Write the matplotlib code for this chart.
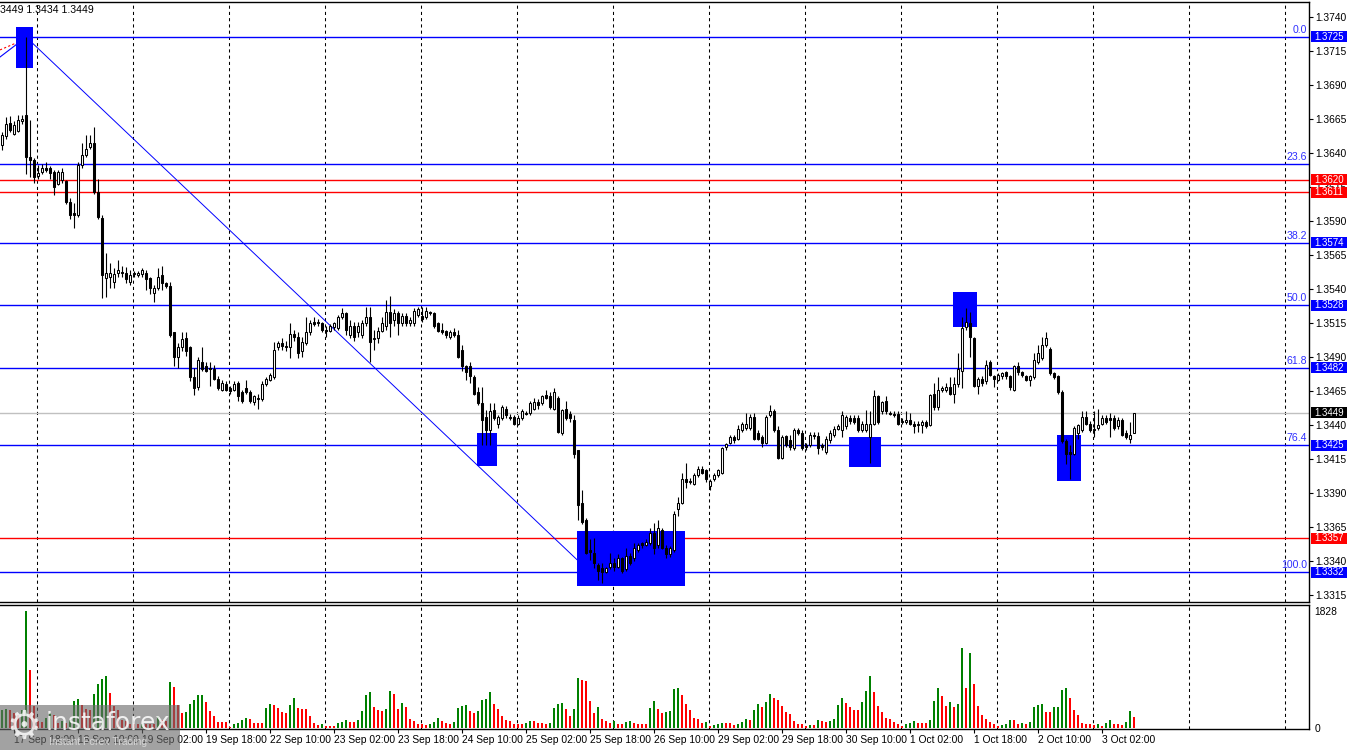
import numpy as np
import matplotlib
matplotlib.use("Agg")
import matplotlib.pyplot as plt
from matplotlib.patches import Rectangle

plt.rcParams['font.family'] = ['Liberation Sans', 'DejaVu Sans']

# hourly candles, 17 Sep - 3 Oct
opens = [
    1.3646, 1.3652, 1.3662, 1.3654, 1.3656, 1.3663, 1.3668, 1.3637, 1.3635, 1.3623,
    1.3626, 1.3629, 1.3629, 1.3626, 1.3617, 1.3620, 1.3619, 1.3604, 1.3596, 1.3594,
    1.3631, 1.3638, 1.3644, 1.3647, 1.3611, 1.3592, 1.3548, 1.3549, 1.3545, 1.3552,
    1.3552, 1.3552, 1.3545, 1.3552, 1.3550, 1.3551, 1.3552, 1.3548, 1.3537, 1.3541,
    1.3550, 1.3544, 1.3542, 1.3508, 1.3490, 1.3497, 1.3504, 1.3497, 1.3475, 1.3468,
    1.3486, 1.3483, 1.3482, 1.3481, 1.3474, 1.3466, 1.3470, 1.3467, 1.3466, 1.3471,
    1.3464, 1.3467, 1.3464, 1.3457, 1.3460, 1.3459, 1.3470, 1.3473, 1.3475, 1.3497,
    1.3500, 1.3498, 1.3497, 1.3507, 1.3505, 1.3494, 1.3500, 1.3508, 1.3516, 1.3516,
    1.3515, 1.3510, 1.3509, 1.3512, 1.3511, 1.3519, 1.3522, 1.3506, 1.3513, 1.3508,
    1.3506, 1.3515, 1.3519, 1.3503, 1.3504, 1.3509, 1.3513, 1.3523, 1.3517, 1.3522,
    1.3515, 1.3520, 1.3515, 1.3515, 1.3521, 1.3520, 1.3519, 1.3523, 1.3522, 1.3515,
    1.3510, 1.3509, 1.3505, 1.3508, 1.3506, 1.3495, 1.3483, 1.3483, 1.3475, 1.3464,
    1.3456, 1.3446, 1.3436, 1.3451, 1.3441, 1.3445, 1.3452, 1.3446, 1.3446, 1.3441,
    1.3445, 1.3449, 1.3449, 1.3452, 1.3457, 1.3456, 1.3462, 1.3461, 1.3452, 1.3460,
    1.3434, 1.3452, 1.3448, 1.3444, 1.3422, 1.3383, 1.3370, 1.3348, 1.3346, 1.3337,
    1.3335, 1.3332, 1.3336, 1.3339, 1.3336, 1.3342, 1.3334, 1.3344, 1.3342, 1.3348,
    1.3353, 1.3352, 1.3353, 1.3361, 1.3352, 1.3363, 1.3350, 1.3345, 1.3348, 1.3378,
    1.3383, 1.3400, 1.3398, 1.3397, 1.3403, 1.3408, 1.3407, 1.3395, 1.3400, 1.3403,
    1.3405, 1.3424, 1.3427, 1.3431, 1.3430, 1.3436, 1.3438, 1.3438, 1.3446, 1.3434,
    1.3431, 1.3427, 1.3447, 1.3450, 1.3436, 1.3416, 1.3432, 1.3429, 1.3423, 1.3436,
    1.3434, 1.3425, 1.3425, 1.3433, 1.3432, 1.3425, 1.3420, 1.3429, 1.3433, 1.3437,
    1.3436, 1.3439, 1.3445, 1.3445, 1.3445, 1.3436, 1.3436, 1.3431, 1.3441, 1.3461,
    1.3450, 1.3458, 1.3449, 1.3448, 1.3448, 1.3443, 1.3442, 1.3444, 1.3441, 1.3441,
    1.3440, 1.3442, 1.3440, 1.3463, 1.3453, 1.3466, 1.3466, 1.3468, 1.3463, 1.3470,
    1.3480, 1.3512, 1.3515, 1.3504, 1.3469, 1.3474, 1.3472, 1.3486, 1.3476, 1.3473,
    1.3476, 1.3479, 1.3476, 1.3466, 1.3483, 1.3479, 1.3476, 1.3473, 1.3475, 1.3486,
    1.3489, 1.3499, 1.3496, 1.3478, 1.3476, 1.3464, 1.3428, 1.3420, 1.3419, 1.3434,
    1.3436, 1.3446, 1.3441, 1.3437, 1.3438, 1.3441, 1.3445, 1.3445, 1.3445, 1.3439,
    1.3444, 1.3434, 1.3430, 1.3434,
]
highs = [
    1.3655, 1.3666, 1.3667, 1.3663, 1.3668, 1.3668, 1.3725, 1.3664, 1.3636, 1.3631,
    1.3632, 1.3633, 1.3630, 1.3627, 1.3627, 1.3629, 1.3620, 1.3607, 1.3603, 1.3633,
    1.3647, 1.3653, 1.3653, 1.3659, 1.3621, 1.3594, 1.3566, 1.3559, 1.3555, 1.3561,
    1.3557, 1.3556, 1.3554, 1.3553, 1.3553, 1.3555, 1.3554, 1.3549, 1.3543, 1.3555,
    1.3557, 1.3545, 1.3545, 1.3508, 1.3500, 1.3508, 1.3508, 1.3498, 1.3482, 1.3490,
    1.3497, 1.3486, 1.3486, 1.3484, 1.3476, 1.3473, 1.3472, 1.3469, 1.3472, 1.3472,
    1.3466, 1.3473, 1.3466, 1.3462, 1.3463, 1.3472, 1.3475, 1.3478, 1.3501, 1.3502,
    1.3504, 1.3502, 1.3515, 1.3510, 1.3508, 1.3505, 1.3519, 1.3517, 1.3519, 1.3518,
    1.3516, 1.3513, 1.3514, 1.3516, 1.3521, 1.3526, 1.3523, 1.3517, 1.3516, 1.3516,
    1.3517, 1.3527, 1.3527, 1.3510, 1.3512, 1.3519, 1.3532, 1.3535, 1.3525, 1.3524,
    1.3522, 1.3522, 1.3519, 1.3526, 1.3527, 1.3527, 1.3527, 1.3524, 1.3523, 1.3516,
    1.3515, 1.3510, 1.3510, 1.3511, 1.3510, 1.3499, 1.3484, 1.3486, 1.3477, 1.3468,
    1.3468, 1.3451, 1.3456, 1.3456, 1.3447, 1.3455, 1.3454, 1.3448, 1.3447, 1.3447,
    1.3452, 1.3450, 1.3458, 1.3460, 1.3459, 1.3462, 1.3466, 1.3464, 1.3467, 1.3461,
    1.3452, 1.3458, 1.3450, 1.3447, 1.3422, 1.3392, 1.3372, 1.3356, 1.3357, 1.3339,
    1.3339, 1.3336, 1.3346, 1.3342, 1.3345, 1.3343, 1.3350, 1.3346, 1.3353, 1.3353,
    1.3354, 1.3356, 1.3364, 1.3368, 1.3370, 1.3364, 1.3352, 1.3351, 1.3377, 1.3387,
    1.3405, 1.3412, 1.3401, 1.3405, 1.3410, 1.3410, 1.3408, 1.3400, 1.3405, 1.3408,
    1.3424, 1.3427, 1.3433, 1.3433, 1.3440, 1.3442, 1.3449, 1.3448, 1.3449, 1.3436,
    1.3433, 1.3447, 1.3455, 1.3452, 1.3439, 1.3433, 1.3433, 1.3433, 1.3438, 1.3438,
    1.3436, 1.3427, 1.3435, 1.3435, 1.3435, 1.3427, 1.3432, 1.3436, 1.3439, 1.3441,
    1.3450, 1.3447, 1.3447, 1.3447, 1.3447, 1.3443, 1.3451, 1.3450, 1.3466, 1.3462,
    1.3458, 1.3461, 1.3450, 1.3450, 1.3450, 1.3445, 1.3450, 1.3449, 1.3443, 1.3443,
    1.3444, 1.3444, 1.3463, 1.3471, 1.3475, 1.3469, 1.3471, 1.3475, 1.3475, 1.3493,
    1.3519, 1.3526, 1.3523, 1.3505, 1.3475, 1.3476, 1.3488, 1.3488, 1.3477, 1.3478,
    1.3479, 1.3480, 1.3477, 1.3484, 1.3486, 1.3480, 1.3477, 1.3477, 1.3493, 1.3499,
    1.3505, 1.3508, 1.3497, 1.3479, 1.3477, 1.3466, 1.3430, 1.3425, 1.3439, 1.3441,
    1.3450, 1.3450, 1.3443, 1.3450, 1.3452, 1.3447, 1.3447, 1.3449, 1.3447, 1.3446,
    1.3445, 1.3436, 1.3442, 1.3449,
]
lows = [
    1.3642, 1.3650, 1.3655, 1.3653, 1.3655, 1.3661, 1.3624, 1.3622, 1.3618, 1.3621,
    1.3624, 1.3626, 1.3621, 1.3609, 1.3616, 1.3618, 1.3602, 1.3591, 1.3585, 1.3593,
    1.3629, 1.3637, 1.3643, 1.3610, 1.3591, 1.3533, 1.3534, 1.3541, 1.3541, 1.3549,
    1.3549, 1.3544, 1.3543, 1.3549, 1.3549, 1.3549, 1.3539, 1.3536, 1.3530, 1.3539,
    1.3539, 1.3541, 1.3505, 1.3483, 1.3482, 1.3494, 1.3491, 1.3472, 1.3462, 1.3466,
    1.3480, 1.3479, 1.3469, 1.3473, 1.3466, 1.3465, 1.3465, 1.3463, 1.3465, 1.3458,
    1.3456, 1.3463, 1.3456, 1.3455, 1.3452, 1.3458, 1.3469, 1.3472, 1.3474, 1.3495,
    1.3495, 1.3494, 1.3489, 1.3502, 1.3489, 1.3490, 1.3499, 1.3506, 1.3513, 1.3513,
    1.3508, 1.3505, 1.3508, 1.3510, 1.3510, 1.3518, 1.3506, 1.3504, 1.3502, 1.3505,
    1.3504, 1.3513, 1.3486, 1.3495, 1.3500, 1.3508, 1.3510, 1.3505, 1.3513, 1.3506,
    1.3513, 1.3513, 1.3513, 1.3513, 1.3519, 1.3516, 1.3518, 1.3521, 1.3511, 1.3508,
    1.3507, 1.3504, 1.3503, 1.3505, 1.3489, 1.3480, 1.3473, 1.3471, 1.3462, 1.3455,
    1.3425, 1.3425, 1.3425, 1.3444, 1.3438, 1.3444, 1.3445, 1.3444, 1.3440, 1.3440,
    1.3444, 1.3447, 1.3447, 1.3451, 1.3452, 1.3455, 1.3459, 1.3452, 1.3451, 1.3434,
    1.3433, 1.3444, 1.3442, 1.3416, 1.3370, 1.3367, 1.3345, 1.3341, 1.3335, 1.3326,
    1.3324, 1.3331, 1.3334, 1.3333, 1.3335, 1.3331, 1.3333, 1.3337, 1.3340, 1.3347,
    1.3350, 1.3351, 1.3352, 1.3345, 1.3350, 1.3349, 1.3342, 1.3343, 1.3347, 1.3373,
    1.3382, 1.3394, 1.3397, 1.3396, 1.3402, 1.3404, 1.3398, 1.3392, 1.3399, 1.3402,
    1.3404, 1.3422, 1.3426, 1.3427, 1.3429, 1.3435, 1.3436, 1.3436, 1.3429, 1.3429,
    1.3424, 1.3426, 1.3446, 1.3435, 1.3415, 1.3415, 1.3424, 1.3422, 1.3422, 1.3433,
    1.3422, 1.3422, 1.3424, 1.3430, 1.3419, 1.3422, 1.3419, 1.3427, 1.3431, 1.3436,
    1.3431, 1.3437, 1.3441, 1.3441, 1.3435, 1.3435, 1.3435, 1.3412, 1.3440, 1.3441,
    1.3448, 1.3448, 1.3447, 1.3446, 1.3440, 1.3441, 1.3441, 1.3440, 1.3434, 1.3435,
    1.3434, 1.3438, 1.3439, 1.3451, 1.3451, 1.3464, 1.3464, 1.3462, 1.3456, 1.3468,
    1.3467, 1.3510, 1.3490, 1.3468, 1.3463, 1.3469, 1.3470, 1.3476, 1.3468, 1.3472,
    1.3474, 1.3474, 1.3466, 1.3465, 1.3477, 1.3475, 1.3472, 1.3469, 1.3474, 1.3485,
    1.3488, 1.3497, 1.3477, 1.3474, 1.3463, 1.3427, 1.3411, 1.3400, 1.3418, 1.3430,
    1.3435, 1.3440, 1.3435, 1.3431, 1.3436, 1.3440, 1.3441, 1.3431, 1.3436, 1.3437,
    1.3432, 1.3430, 1.3427, 1.3434,
]
closes = [
    1.3653, 1.3661, 1.3657, 1.3660, 1.3664, 1.3665, 1.3637, 1.3635, 1.3622, 1.3625,
    1.3629, 1.3627, 1.3625, 1.3615, 1.3626, 1.3626, 1.3604, 1.3594, 1.3594, 1.3631,
    1.3638, 1.3643, 1.3647, 1.3611, 1.3593, 1.3550, 1.3552, 1.3552, 1.3551, 1.3554,
    1.3552, 1.3547, 1.3550, 1.3551, 1.3552, 1.3554, 1.3547, 1.3541, 1.3541, 1.3549,
    1.3544, 1.3542, 1.3506, 1.3490, 1.3497, 1.3503, 1.3494, 1.3475, 1.3467, 1.3488,
    1.3481, 1.3480, 1.3481, 1.3474, 1.3467, 1.3471, 1.3466, 1.3465, 1.3470, 1.3461,
    1.3458, 1.3464, 1.3458, 1.3461, 1.3459, 1.3470, 1.3474, 1.3477, 1.3495, 1.3500,
    1.3498, 1.3497, 1.3507, 1.3505, 1.3493, 1.3501, 1.3508, 1.3515, 1.3514, 1.3515,
    1.3510, 1.3509, 1.3513, 1.3515, 1.3519, 1.3522, 1.3510, 1.3513, 1.3505, 1.3513,
    1.3515, 1.3519, 1.3501, 1.3504, 1.3509, 1.3515, 1.3523, 1.3515, 1.3522, 1.3515,
    1.3520, 1.3515, 1.3517, 1.3524, 1.3525, 1.3518, 1.3524, 1.3522, 1.3513, 1.3509,
    1.3508, 1.3506, 1.3508, 1.3506, 1.3490, 1.3483, 1.3479, 1.3476, 1.3463, 1.3456,
    1.3444, 1.3436, 1.3450, 1.3445, 1.3446, 1.3453, 1.3447, 1.3445, 1.3441, 1.3445,
    1.3450, 1.3448, 1.3456, 1.3457, 1.3455, 1.3461, 1.3460, 1.3453, 1.3464, 1.3435,
    1.3451, 1.3445, 1.3445, 1.3419, 1.3381, 1.3369, 1.3346, 1.3347, 1.3339, 1.3333,
    1.3332, 1.3335, 1.3339, 1.3336, 1.3342, 1.3333, 1.3344, 1.3339, 1.3350, 1.3352,
    1.3352, 1.3354, 1.3361, 1.3350, 1.3364, 1.3350, 1.3345, 1.3350, 1.3375, 1.3383,
    1.3400, 1.3398, 1.3399, 1.3403, 1.3408, 1.3405, 1.3400, 1.3399, 1.3403, 1.3407,
    1.3423, 1.3426, 1.3431, 1.3429, 1.3437, 1.3441, 1.3441, 1.3446, 1.3430, 1.3430,
    1.3427, 1.3446, 1.3450, 1.3436, 1.3416, 1.3431, 1.3425, 1.3424, 1.3436, 1.3434,
    1.3423, 1.3424, 1.3433, 1.3432, 1.3423, 1.3424, 1.3430, 1.3434, 1.3437, 1.3439,
    1.3447, 1.3446, 1.3443, 1.3442, 1.3436, 1.3441, 1.3441, 1.3441, 1.3461, 1.3442,
    1.3457, 1.3450, 1.3448, 1.3447, 1.3441, 1.3442, 1.3444, 1.3441, 1.3439, 1.3440,
    1.3442, 1.3439, 1.3462, 1.3453, 1.3466, 1.3467, 1.3468, 1.3463, 1.3470, 1.3481,
    1.3511, 1.3516, 1.3505, 1.3469, 1.3474, 1.3471, 1.3484, 1.3477, 1.3474, 1.3477,
    1.3478, 1.3476, 1.3468, 1.3483, 1.3479, 1.3477, 1.3473, 1.3476, 1.3488, 1.3493,
    1.3499, 1.3504, 1.3478, 1.3475, 1.3464, 1.3428, 1.3419, 1.3419, 1.3438, 1.3440,
    1.3446, 1.3441, 1.3436, 1.3436, 1.3440, 1.3445, 1.3442, 1.3444, 1.3438, 1.3444,
    1.3433, 1.3431, 1.3433, 1.3449,
]
volumes = [
    286, 300, 280, 234, 208, 286, 1828, 910, 338, 104,
    100, 156, 234, 208, 78, 104, 78, 130, 426, 458,
    364, 296, 286, 536, 692, 770, 816, 546, 338, 286,
    130, 104, 68, 64, 60, 66, 62, 60, 58, 192,
    130, 104, 712, 634, 364, 234, 244, 380, 442, 515,
    520, 411, 270, 192, 99, 95, 92, 21, 57, 73,
    120, 161, 146, 83, 80, 78, 317, 380, 364, 307,
    255, 239, 364, 473, 312, 300, 290, 192, 83, 52,
    68, 36, 34, 32, 83, 99, 130, 99, 97, 120,
    270, 520, 567, 333, 286, 265, 302, 582, 536, 302,
    390, 333, 146, 114, 68, 66, 52, 68, 99, 161,
    114, 83, 68, 94, 312, 338, 364, 270, 239, 270,
    442, 446, 567, 380, 291, 192, 130, 114, 68, 62,
    60, 83, 114, 110, 83, 80, 68, 83, 317, 380,
    395, 302, 192, 302, 785, 754, 738, 426, 239, 333,
    146, 114, 83, 114, 68, 66, 99, 114, 83, 68,
    66, 64, 317, 426, 302, 239, 255, 258, 614, 629,
    520, 380, 286, 161, 146, 83, 99, 36, 52, 68,
    83, 80, 78, 52, 68, 99, 146, 130, 286, 380,
    333, 411, 536, 473, 442, 348, 255, 224, 114, 68,
    66, 36, 52, 50, 130, 114, 99, 114, 146, 364,
    473, 395, 333, 286, 284, 411, 582, 816, 567, 348,
    255, 161, 146, 99, 68, 36, 68, 83, 114, 83,
    80, 78, 120, 426, 629, 504, 348, 411, 333, 380,
    1253, 629, 1170, 691, 348, 208, 146, 99, 68, 36,
    52, 68, 130, 128, 68, 83, 68, 99, 333, 364,
    380, 255, 253, 333, 335, 598, 629, 473, 286, 208,
    83, 68, 66, 52, 60, 36, 83, 130, 68, 66,
    52, 99, 270, 177,
]

date_labels = ['17 Sep 18:00', '18 Sep 10:00', '19 Sep 02:00', '19 Sep 18:00',
               '22 Sep 10:00', '23 Sep 02:00', '23 Sep 18:00', '24 Sep 10:00',
               '25 Sep 02:00', '25 Sep 18:00', '26 Sep 10:00', '29 Sep 02:00',
               '29 Sep 18:00', '30 Sep 10:00', '1 Oct 02:00', '1 Oct 18:00',
               '2 Oct 10:00', '3 Oct 02:00']
label_bars = [3 + 16 * k for k in range(len(date_labels))]

fib_names = ['0.0', '23.6', '38.2', '50.0', '61.8', '76.4', '100.0']
fib_levels = [1.3725, 1.3632, 1.3574, 1.3528, 1.3482, 1.3425, 1.3332]
red_levels = [1.3620, 1.3611, 1.3357]
last_price = 1.3449
volume_max = 1828
header = '3449 1.3434 1.3449'

# signal boxes: (first bar, last bar, low, high)
boxes = [(3.5, 7.75, 1.3702, 1.3732), (118.75, 123.75, 1.3410, 1.3434),
         (143.75, 170.75, 1.3322, 1.3362), (211.75, 219.75, 1.3409, 1.3431),
         (237.75, 243.75, 1.3512, 1.3538), (263.75, 269.75, 1.3399, 1.3433)]

o = np.array(opens); h = np.array(highs); l = np.array(lows); c = np.array(closes)
v = np.array(volumes)
n = len(c)
x = np.arange(n)

W, H = 1350, 750
fig = plt.figure(figsize=(W / 100, H / 100), dpi=100)
ax = fig.add_axes([0, 1 - 602 / H, 1309 / W, 600 / H])
axv = fig.add_axes([0, 1 - 729 / H, 1309 / W, 124.5 / H])

BLUE = '#0000ff'
RED = '#ff0000'

for a in (ax, axv):
    a.set_xlim(-0.5, 326.75)
    for g in np.arange(8.75, 327, 24):
        a.axvline(g, color='black', lw=0.75, ls=(0, (3, 3)), zorder=1)
    a.spines['left'].set_visible(False)
    for s in ('top', 'right', 'bottom'):
        a.spines[s].set_linewidth(1.0)

ymin, ymax = 1.33100, 1.37507
ax.set_ylim(ymin, ymax)
px = (ymax - ymin) / 600.0   # price per pixel

# horizontal levels
for lv in fib_levels:
    ax.axhline(lv, color=BLUE, lw=1.0, zorder=2)
for lv in red_levels:
    ax.axhline(lv, color=RED, lw=1.0, zorder=2)
ax.axhline(last_price, color='#c0c0c0', lw=1.0, zorder=1.5)

# signal rectangles
for x0, x1, y0, y1 in boxes:
    ax.add_patch(Rectangle((x0, y0), x1 - x0, y1 - y0, fc=BLUE, ec='none', zorder=2.2))

# fibo diagonal and older trend lines
ax.plot([6, 147], [fib_levels[0], fib_levels[-1]], color=BLUE, lw=0.7, zorder=2.1)
ax.plot([-0.5, 5.75], [1.37103, 1.37243], color=BLUE, lw=0.8, zorder=2.1)
ax.plot([-0.5, 4.1], [1.37155, 1.37213], color=RED, lw=0.8, ls=(0, (2, 2)), zorder=2.1)

# candles
up = c > o
ax.vlines(x, l, h, color='black', lw=0.8, zorder=3)
bot = np.minimum(o, c)
hgt = np.maximum(np.abs(c - o), 0.00002)
ax.bar(x[up], hgt[up], bottom=bot[up], width=0.55, color='white', edgecolor='black',
       linewidth=0.75, zorder=4)
ax.bar(x[~up], hgt[~up], bottom=bot[~up], width=0.55, color='black', edgecolor='black',
       linewidth=0.75, zorder=4)

# price axis
ticks = np.round(np.arange(1.3315, 1.37401, 0.0025), 4)
ax.yaxis.tick_right()
ax.set_yticks(ticks)
ax.set_yticklabels(['%.4f' % t for t in ticks])
ax.tick_params(axis='y', labelsize=7.4, length=3, width=0.8, pad=1.5)
ax.tick_params(axis='x', bottom=False, labelbottom=False)

yt = ax.get_yaxis_transform()
for name, lv in zip(fib_names, fib_levels):
    ax.text(0.9985, lv + 2 * px, name, transform=yt, ha='right', va='bottom',
            fontsize=7.6, color='#2f2fff', zorder=5)

def price_box(level, fc):
    ax.add_patch(Rectangle((1311 / 1309, level - 5.5 * px), 36 / 1309, 11 * px,
                           transform=yt, fc=fc, ec='none', zorder=9, clip_on=False))
    ax.text(1329 / 1309, level, '%.4f' % level, transform=yt, ha='center', va='center',
            fontsize=7.0, color='white', zorder=10, clip_on=False)

for lv in fib_levels:
    if lv != 1.3632:
        price_box(lv, BLUE)
for lv in red_levels:
    price_box(lv, RED)
price_box(last_price, 'black')

# volumes (MT4 style: green when higher than previous bar)
vol_colors = ['#008000'] + ['#008000' if v[i] > v[i - 1] else RED for i in range(1, n)]
axv.bar(x, v, width=0.62, color=vol_colors, zorder=3)
axv.set_ylim(-15.6, 1927)
axv.yaxis.tick_right()
axv.set_yticks([0, volume_max])
axv.set_yticklabels(['0', str(volume_max)])
axv.tick_params(axis='y', labelsize=7.4, length=0, pad=4)
axv.set_xticks(label_bars)
axv.set_xticklabels(date_labels, ha='left')
axv.tick_params(axis='x', labelsize=7.4, length=3, width=0.8, pad=1.5)

# header (left part is outside the window in the original)
fig.text(0.5 / W, 1 - 10 / H, header, ha='left', va='center', fontsize=7.6)

# watermark
fig.patches.append(Rectangle((0, 0), 180 / W, 45 / H, transform=fig.transFigure,
                             fc='#6a6a6a', ec='none', alpha=0.62, zorder=5))
fig.text(24 / W, 1 - 727 / H, '\u2699', fontsize=28, color='white', alpha=0.8,
         ha='center', va='center', family=['DejaVu Sans'], zorder=6)
fig.text(46 / W, 1 - 723 / H, 'instaforex', fontsize=18, color='white', alpha=0.85,
         ha='left', va='center', family=['DejaVu Sans'], zorder=6)
fig.text(49 / W, 1 - 742 / H, 'Instant Forex Trading', fontsize=7.5, color='#dddddd',
         alpha=0.85, ha='left', va='center', zorder=6)

fig.savefig('out.png', dpi=100)
